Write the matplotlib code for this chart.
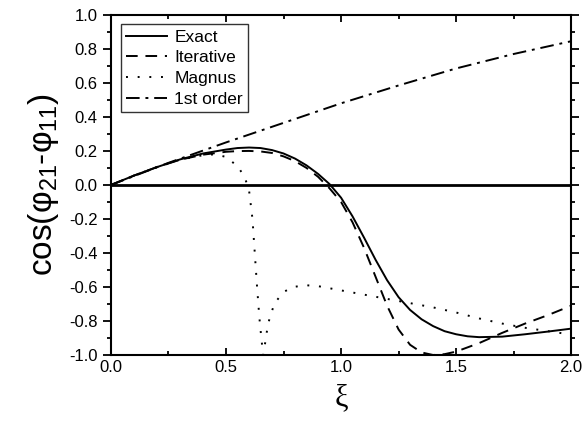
import numpy as np
import matplotlib
matplotlib.use('Agg')
import matplotlib.pyplot as plt
from matplotlib.ticker import MultipleLocator

plt.rcParams['font.family'] = ['Liberation Sans', 'DejaVu Sans']
plt.rcParams['mathtext.fontset'] = 'custom'
plt.rcParams['mathtext.rm'] = 'Liberation Sans'
plt.rcParams['mathtext.it'] = 'Liberation Sans'

# Exact
xi_exact = [0.0, 0.1, 0.2, 0.3, 0.4, 0.5, 0.55, 0.6, 0.65, 0.7, 0.75, 0.8, 0.85, 0.9, 0.95, 1.0,
            1.05, 1.1, 1.15, 1.2, 1.25, 1.3, 1.35, 1.4, 1.45, 1.5, 1.55, 1.6, 1.7, 1.8, 1.9, 2.0]
exact = [0.0, 0.055, 0.105, 0.15, 0.185, 0.208, 0.217, 0.22, 0.217, 0.205, 0.185, 0.155, 0.115, 0.065, 0.005, -0.075,
         -0.185, -0.31, -0.44, -0.56, -0.66, -0.735, -0.79, -0.83, -0.86, -0.878, -0.89, -0.895, -0.892, -0.878, -0.862, -0.845]

# Iterative
xi_iter = [0.0, 0.1, 0.2, 0.3, 0.4, 0.5, 0.55, 0.6, 0.65, 0.7, 0.75, 0.8, 0.85, 0.9, 0.95, 1.0,
           1.05, 1.1, 1.15, 1.2, 1.25, 1.3, 1.35, 1.4, 1.45, 1.5, 1.6, 1.7, 1.8, 1.9, 2.0]
iterative = [0.0, 0.055, 0.105, 0.148, 0.178, 0.195, 0.199, 0.2, 0.197, 0.188, 0.168, 0.14, 0.1, 0.048, -0.02, -0.1,
             -0.22, -0.37, -0.54, -0.71, -0.85, -0.94, -0.985, -1.0, -0.995, -0.98, -0.93, -0.87, -0.815, -0.765, -0.71]

# Magnus
xi_magnus = [0.0, 0.1, 0.2, 0.3, 0.4, 0.45, 0.5, 0.55, 0.58, 0.6, 0.615, 0.625, 0.635, 0.645,
             0.655, 0.662, 0.67, 0.68, 0.69, 0.705, 0.72, 0.75, 0.79, 0.85, 0.9, 1.0, 1.1, 1.2,
             1.3, 1.4, 1.5, 1.6, 1.7, 1.8, 1.9, 2.0]
magnus = [0.0, 0.055, 0.105, 0.148, 0.175, 0.18, 0.165, 0.11, 0.05, -0.03, -0.2, -0.4, -0.6, -0.78,
          -0.92, -1.0, -0.93, -0.84, -0.78, -0.72, -0.68, -0.63, -0.6, -0.59, -0.595, -0.62, -0.645, -0.67,
          -0.695, -0.72, -0.75, -0.785, -0.815, -0.84, -0.86, -0.88]

# 1st order
xi_first = [0.0, 0.25, 0.5, 0.75, 1.0, 1.25, 1.5, 1.75, 2.0]
first = [0.0, 0.13, 0.25, 0.365, 0.48, 0.585, 0.685, 0.77, 0.845]

fig = plt.figure(figsize=(5.84, 4.3), dpi=100)
ax = fig.add_axes([0.19, 0.1744, 0.788, 0.791])

ax.axhline(0, color='black', lw=2)
ax.plot(xi_exact, exact, color='black', lw=1.4, ls='-', label='Exact')
ax.plot(xi_iter, iterative, color='black', lw=1.4, ls=(0, (6, 4)), label='Iterative')
ax.plot(xi_magnus, magnus, color='black', lw=1.4, ls=(0, (1, 5)), label='Magnus')
ax.plot(xi_first, first, color='black', lw=1.4, ls=(0, (7, 3, 1.5, 3)), label='1st order')

ax.set_xlim(0, 2)
ax.set_ylim(-1, 1)
ax.xaxis.set_major_locator(MultipleLocator(0.5))
ax.xaxis.set_minor_locator(MultipleLocator(0.25))
ax.yaxis.set_major_locator(MultipleLocator(0.2))
ax.yaxis.set_minor_locator(MultipleLocator(0.1))
ax.set_xticklabels([f'{v:.1f}' for v in ax.get_xticks()])
ax.set_yticks(np.arange(-1, 1.01, 0.2))
ax.set_yticklabels([f'{v:.1f}' if abs(v) > 1e-9 else '0.0' for v in np.arange(-1, 1.01, 0.2)])

for s in ax.spines.values():
    s.set_linewidth(1.5)
ax.tick_params(which='both', top=True, right=True, labelsize=12, width=1.3)
ax.tick_params(axis='y', which='major', direction='out', length=6)
ax.tick_params(axis='y', which='minor', direction='out', length=3)
ax.tick_params(axis='x', which='major', direction='in', length=5)
ax.tick_params(axis='x', which='minor', direction='in', length=3)

ax.set_xlabel('ξ', fontsize=22, family=['Liberation Serif'], labelpad=6)
ax.set_ylabel('cos(φ$_{21}$-φ$_{11}$)', fontsize=24, labelpad=6)

leg = ax.legend(loc='upper left', fontsize=12.5, frameon=True, fancybox=False,
                edgecolor='black', handlelength=2.4, borderpad=0.3, labelspacing=0.32,
                handletextpad=0.4, borderaxespad=0.55)
leg.get_frame().set_linewidth(1.0)

fig.savefig('out.png', dpi=100)
